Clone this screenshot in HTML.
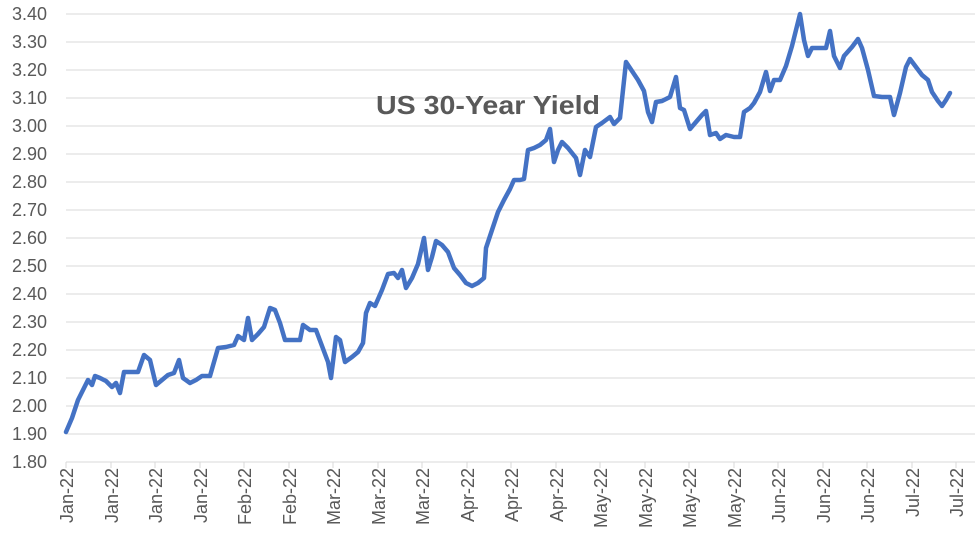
<!DOCTYPE html>
<html><head><meta charset="utf-8"><style>
html,body{margin:0;padding:0;background:#fff;}
svg{display:block;font-family:"Liberation Sans",sans-serif;}
</style></head><body>
<svg width="980" height="552" viewBox="0 0 980 552" xmlns="http://www.w3.org/2000/svg">
<g stroke="#d9d9d9" stroke-width="1">
<line x1="66" x2="975" y1="14" y2="14"/><line x1="66" x2="975" y1="42" y2="42"/><line x1="66" x2="975" y1="70" y2="70"/><line x1="66" x2="975" y1="98" y2="98"/><line x1="66" x2="975" y1="126" y2="126"/><line x1="66" x2="975" y1="154" y2="154"/><line x1="66" x2="975" y1="182" y2="182"/><line x1="66" x2="975" y1="210" y2="210"/><line x1="66" x2="975" y1="238" y2="238"/><line x1="66" x2="975" y1="266" y2="266"/><line x1="66" x2="975" y1="294" y2="294"/><line x1="66" x2="975" y1="322" y2="322"/><line x1="66" x2="975" y1="350" y2="350"/><line x1="66" x2="975" y1="378" y2="378"/><line x1="66" x2="975" y1="406" y2="406"/><line x1="66" x2="975" y1="434" y2="434"/>
<line x1="66" x2="975" y1="462" y2="462"/>
</g>
<g fill="#595959" font-size="18" text-anchor="end">
<text x="47" y="20">3.40</text><text x="47" y="48">3.30</text><text x="47" y="76">3.20</text><text x="47" y="104">3.10</text><text x="47" y="132">3.00</text><text x="47" y="160">2.90</text><text x="47" y="188">2.80</text><text x="47" y="216">2.70</text><text x="47" y="244">2.60</text><text x="47" y="272">2.50</text><text x="47" y="300">2.40</text><text x="47" y="328">2.30</text><text x="47" y="356">2.20</text><text x="47" y="384">2.10</text><text x="47" y="412">2.00</text><text x="47" y="440">1.90</text><text x="47" y="468">1.80</text>
</g>
<g fill="#595959" font-size="18" text-anchor="end">
<text transform="translate(73,468) rotate(-90)">Jan-22</text>
<text transform="translate(118,468) rotate(-90)">Jan-22</text>
<text transform="translate(162,468) rotate(-90)">Jan-22</text>
<text transform="translate(207,468) rotate(-90)">Jan-22</text>
<text transform="translate(251,468) rotate(-90)">Feb-22</text>
<text transform="translate(296,468) rotate(-90)">Feb-22</text>
<text transform="translate(340,468) rotate(-90)">Mar-22</text>
<text transform="translate(385,468) rotate(-90)">Mar-22</text>
<text transform="translate(429,468) rotate(-90)">Mar-22</text>
<text transform="translate(474,468) rotate(-90)">Apr-22</text>
<text transform="translate(518,468) rotate(-90)">Apr-22</text>
<text transform="translate(563,468) rotate(-90)">Apr-22</text>
<text transform="translate(607,468) rotate(-90)">May-22</text>
<text transform="translate(652,468) rotate(-90)">May-22</text>
<text transform="translate(696,468) rotate(-90)">May-22</text>
<text transform="translate(741,468) rotate(-90)">May-22</text>
<text transform="translate(785,468) rotate(-90)">Jun-22</text>
<text transform="translate(830,468) rotate(-90)">Jun-22</text>
<text transform="translate(874,468) rotate(-90)">Jun-22</text>
<text transform="translate(919,468) rotate(-90)">Jul-22</text>
<text transform="translate(963,468) rotate(-90)">Jul-22</text>
</g>
<g stroke="#d9d9d9">
<line x1="66" x2="66" y1="462" y2="468"/><line x1="111" x2="111" y1="462" y2="468"/><line x1="155" x2="155" y1="462" y2="468"/><line x1="200" x2="200" y1="462" y2="468"/><line x1="244" x2="244" y1="462" y2="468"/><line x1="289" x2="289" y1="462" y2="468"/><line x1="333" x2="333" y1="462" y2="468"/><line x1="378" x2="378" y1="462" y2="468"/><line x1="422" x2="422" y1="462" y2="468"/><line x1="467" x2="467" y1="462" y2="468"/><line x1="511" x2="511" y1="462" y2="468"/><line x1="556" x2="556" y1="462" y2="468"/><line x1="600" x2="600" y1="462" y2="468"/><line x1="645" x2="645" y1="462" y2="468"/><line x1="689" x2="689" y1="462" y2="468"/><line x1="734" x2="734" y1="462" y2="468"/><line x1="778" x2="778" y1="462" y2="468"/><line x1="823" x2="823" y1="462" y2="468"/><line x1="867" x2="867" y1="462" y2="468"/><line x1="912" x2="912" y1="462" y2="468"/><line x1="956" x2="956" y1="462" y2="468"/>
</g>
<text x="376" y="114" font-size="26" font-weight="bold" fill="#595959" textLength="224" lengthAdjust="spacingAndGlyphs">US 30-Year Yield</text>
<polyline fill="none" stroke="#4472c4" stroke-width="4.5" stroke-linejoin="round" stroke-linecap="round" points="66,432 72,418 78,400 84,388 88,380 92,385 95,376 100,378 106,381 112,387 116,383 120,393 124,372 130,372 138,372 144,355 150,360 156,385 162,380 168,375 174,373 179,360 183,378 190,383 196,380 202,376 210,376 218,348 226,347 234,345 238,336 244,340 248,318 252,340 258,334 264,327 270,308 275,310 280,323 285,340 292,340 300,340 303,325 310,330 316,330 322,346 328,362 331,378 336,337 340,340 345,362 352,357 358,352 363,343 366,313 370,303 375,306 382,290 388,274 394,273 398,278 402,270 406,288 412,278 418,264 424,238 428,270 432,257 436,241 442,245 448,252 454,268 460,275 466,283 472,286 478,283 484,278 486,248 492,230 498,212 504,200 510,189 514,180 520,180 524,179 528,150 534,148 540,145 546,140 550,129 554,162 558,150 562,142 568,148 576,158 580,175 585,150 590,157 596,127 602,123 610,117 614,124 620,118 626,62 632,71 638,80 644,91 648,112 652,122 656,102 662,101 670,97 676,77 680,108 684,110 690,129 696,122 702,115 706,111 710,135 716,133 720,139 726,135 734,137 740,137 744,112 750,108 754,103 760,92 766,72 770,91 774,80 780,80 786,66 792,46 796,30 800,14 804,40 808,56 812,48 820,48 826,48 830,31 834,56 840,68 844,56 852,47 858,39 862,48 868,70 874,96 882,97 890,97 894,115 900,93 906,67 910,59 916,67 922,75 928,80 932,92 938,101 942,106 946,100 950,93"/>
</svg>
</body></html>
